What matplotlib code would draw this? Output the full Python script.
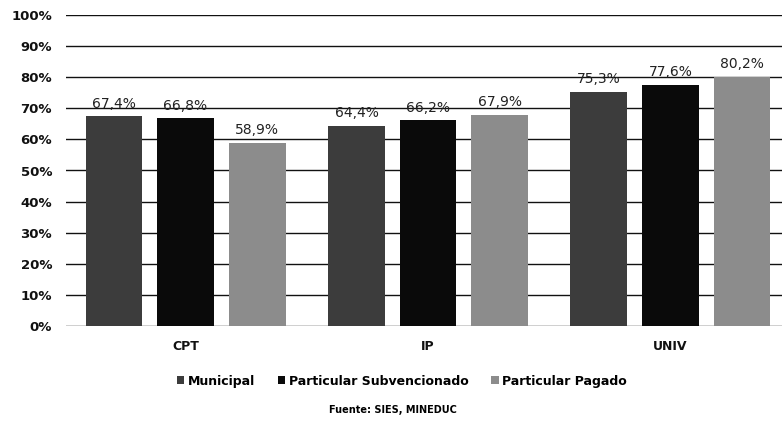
import numpy as np
import matplotlib
matplotlib.use("Agg")
import matplotlib.pyplot as plt
from matplotlib.patches import Patch

categories = ["CPT", "IP", "UNIV"]
series = ["Municipal", "Particular Subvencionado", "Particular Pagado"]
municipal = [67.4, 64.4, 75.3]
subvencionado = [66.8, 66.2, 77.6]
pagado = [58.9, 67.9, 80.2]
yticks = [0, 10, 20, 30, 40, 50, 60, 70, 80, 90, 100]

colors = ["#3c3c3c", "#0a0a0a", "#8c8c8c"]

fig = plt.figure(figsize=(7.82, 4.23), dpi=100)
ax = fig.add_axes([66 / 782, 1 - 326 / 423, 1 - 66 / 782, (326 - 15) / 423])

x = np.arange(len(categories))
width = 0.235
step = 0.295
values = [municipal, subvencionado, pagado]

for i, (vals, col) in enumerate(zip(values, colors)):
    bars = ax.bar(x + (i - 1) * step, vals, width, color=col, zorder=3)
    for b, v in zip(bars, vals):
        ax.annotate(f"{v:.1f}%".replace(".", ","),
                    (b.get_x() + b.get_width() / 2, v),
                    xytext=(0, 4), textcoords="offset points",
                    ha="center", va="bottom", fontsize=10, color="#222222")

# gridlines
for t in yticks:
    ax.axhline(t, color="#111111", lw=1.0, zorder=1)

ax.set_ylim(0, 100)
ax.set_xlim(-0.493, 2.46)
ax.set_yticks(yticks)
ax.set_yticklabels([f"{t}%" for t in yticks], fontsize=9.5, fontweight="bold",
                   color="#111111")
ax.set_xticks(x)
ax.set_xticklabels(categories, fontsize=9, fontweight="bold", color="#111111")
ax.tick_params(axis="y", length=0, pad=10)
ax.tick_params(axis="x", length=0, pad=10)
for s in ax.spines.values():
    s.set_visible(False)

handles = [Patch(facecolor=c, label=s) for c, s in zip(colors, series)]
fig.legend(handles=handles, loc="center", bbox_to_anchor=(402 / 782, 1 - 381 / 423),
           ncol=3, frameon=False, handlelength=0.6, handleheight=0.6,
           handletextpad=0.3, columnspacing=1.8,
           prop={"weight": "bold", "size": 9})

fig.text(393 / 782, 1 - 410 / 423, "Fuente: SIES, MINEDUC", ha="center", va="center",
         fontsize=7, fontweight="bold")

plt.savefig("out.png", dpi=100)
